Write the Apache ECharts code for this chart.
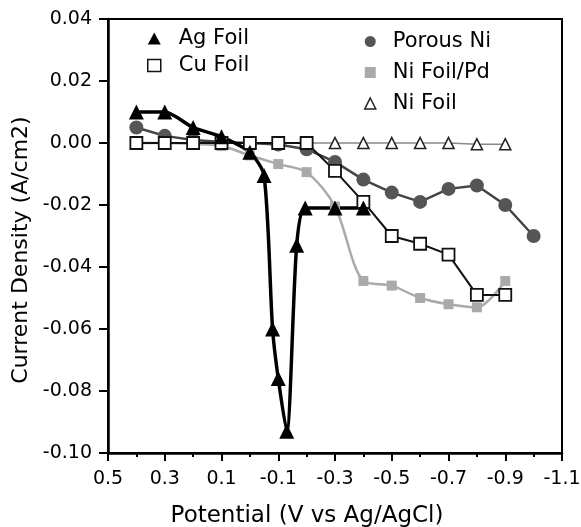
<!DOCTYPE html>
<html>
<head>
<meta charset="utf-8">
<script src="https://cdn.jsdelivr.net/npm/echarts@6/dist/echarts.min.js"></script>
<style>
  html, body { margin: 0; padding: 0; background: #fff; }
  #chart { width: 581px; height: 527px; }
</style>
</head>
<body>
<div id="chart"></div>
<script>
// potentials (V vs Ag/AgCl) and current densities (A/cm2)
const agX = [0.4, 0.3, 0.2, 0.1, 0.0, -0.05, -0.08, -0.10, -0.13, -0.165, -0.195, -0.3, -0.4];
const agY = [0.010, 0.010, 0.005, 0.002, -0.003, -0.0105, -0.060, -0.076, -0.093, -0.033, -0.021, -0.021, -0.021];

const cuX = [0.4, 0.3, 0.2, 0.1, 0.0, -0.1, -0.2, -0.3, -0.4, -0.5, -0.6, -0.7, -0.8, -0.9];
const cuY = [0, 0, 0, 0, 0, 0, 0, -0.009, -0.019, -0.030, -0.0325, -0.036, -0.049, -0.049];

const porousX = [0.4, 0.3, 0.2, 0.1, 0.0, -0.1, -0.2, -0.3, -0.4, -0.5, -0.6, -0.7, -0.8, -0.9, -1.0];
const porousY = [0.005, 0.0023, 0.001, 0.0003, 0, -0.0005, -0.002, -0.0061, -0.0118, -0.016, -0.019, -0.0148, -0.0137, -0.020, -0.030];

const pdX = [0.4, 0.3, 0.2, 0.1, 0.0, -0.1, -0.2, -0.3, -0.4, -0.5, -0.6, -0.7, -0.8, -0.9];
const pdY = [0, 0, -0.0003, -0.001, -0.004, -0.0068, -0.0094, -0.0205, -0.0445, -0.046, -0.050, -0.052, -0.053, -0.0445];

const niX = [0.4, 0.3, 0.2, 0.1, 0.0, -0.1, -0.2, -0.3, -0.4, -0.5, -0.6, -0.7, -0.8, -0.9];
const niY = [0, 0, 0, 0, 0, 0, 0, 0, 0, 0, 0, 0, -0.0004, -0.0004];

const pairs = (xs, ys) => xs.map((x, i) => [x, ys[i]]);

const chart = echarts.init(document.getElementById('chart'));
const font = 'DejaVu Sans';

const option = {
  animation: false,
  backgroundColor: '#fff',
  textStyle: { fontFamily: font, color: '#000' },
  grid: {
    left: 108, right: 19, top: 19, bottom: 74,
    outerBoundsMode: 'none',
    show: true, borderColor: '#000', borderWidth: 2
  },
  legend: [
    {
      orient: 'vertical',
      left: 142, top: 23,
      itemWidth: 13, itemHeight: 12, itemGap: 6,
      textStyle: { fontFamily: font, fontSize: 21, color: '#000', padding: [0, 0, 0, 13] },
      data: [
        { name: 'Ag Foil', icon: 'triangle' },
        { name: 'Cu Foil', icon: 'rect', itemStyle: { borderWidth: 1.5 } }
      ]
    },
    {
      orient: 'vertical',
      left: 359, top: 26,
      itemWidth: 11, itemHeight: 11, itemGap: 10,
      textStyle: { fontFamily: font, fontSize: 21, color: '#000', padding: [0, 0, 0, 12] },
      data: [
        { name: 'Porous Ni', icon: 'circle' },
        { name: 'Ni Foil/Pd', icon: 'rect' },
        { name: 'Ni Foil', icon: 'triangle', itemStyle: { borderWidth: 1.5 } }
      ]
    }
  ],
  xAxis: {
    type: 'value',
    inverse: true,
    min: -1.1, max: 0.5, interval: 0.2,
    name: 'Potential (V vs Ag/AgCl)',
    nameLocation: 'middle',
    nameGap: 52,
    nameTextStyle: { fontFamily: font, fontSize: 23, color: '#000', padding: [0, 56, 0, 0] },
    axisLine: { onZero: false, lineStyle: { color: '#000', width: 2.5 } },
    axisTick: { show: true, inside: false, length: 8, lineStyle: { color: '#000', width: 2 } },
    minorTick: { show: true, splitNumber: 2, length: 4, lineStyle: { color: '#000', width: 2 } },
    axisLabel: {
      fontFamily: font, fontSize: 19, color: '#000', margin: 17,
      formatter: v => (Math.abs(v) < 1e-9 ? '0.0' : v.toFixed(1))
    },
    splitLine: { show: false }
  },
  yAxis: {
    type: 'value',
    min: -0.10, max: 0.04, interval: 0.02,
    name: 'Current Density (A/cm2)',
    nameLocation: 'middle',
    nameGap: 75,
    nameTextStyle: { fontFamily: font, fontSize: 22, color: '#000', padding: [0, 28, 0, 0] },
    axisLine: { onZero: false, lineStyle: { color: '#000', width: 2.5 } },
    axisTick: { show: true, inside: false, length: 9, lineStyle: { color: '#000', width: 2 } },
    axisLabel: {
      fontFamily: font, fontSize: 19, color: '#000', margin: 16,
      formatter: v => (Math.abs(v) < 1e-9 ? '0.00' : v.toFixed(2))
    },
    splitLine: { show: false }
  },
  series: [
    {
      name: 'Ni Foil/Pd',
      type: 'line',
      smooth: 0.3,
      data: pairs(pdX, pdY),
      symbol: 'rect', symbolSize: 10,
      lineStyle: { color: '#aaa', width: 2.5 },
      itemStyle: { color: '#aaa' }
    },
    {
      name: 'Ni Foil',
      type: 'line',
      data: pairs(niX, niY),
      symbol: 'triangle', symbolSize: 11,
      lineStyle: { color: '#888', width: 1.5 },
      itemStyle: { color: '#fff', borderColor: '#222', borderWidth: 1.6 }
    },
    {
      name: 'Porous Ni',
      type: 'line',
      data: pairs(porousX, porousY),
      symbol: 'circle', symbolSize: 14,
      lineStyle: { color: '#444', width: 2.5 },
      itemStyle: { color: '#555' }
    },
    {
      name: 'Cu Foil',
      type: 'line',
      data: pairs(cuX, cuY),
      symbol: 'rect', symbolSize: 12,
      lineStyle: { color: '#111', width: 2 },
      itemStyle: { color: '#fff', borderColor: '#111', borderWidth: 1.8 }
    },
    {
      name: 'Ag Foil',
      type: 'line',
      smooth: 0.25,
      data: pairs(agX, agY),
      symbol: 'triangle', symbolSize: 15,
      lineStyle: { color: '#000', width: 3.5 },
      itemStyle: { color: '#000' }
    }
  ]
};

chart.setOption(option);
</script>
</body>
</html>
